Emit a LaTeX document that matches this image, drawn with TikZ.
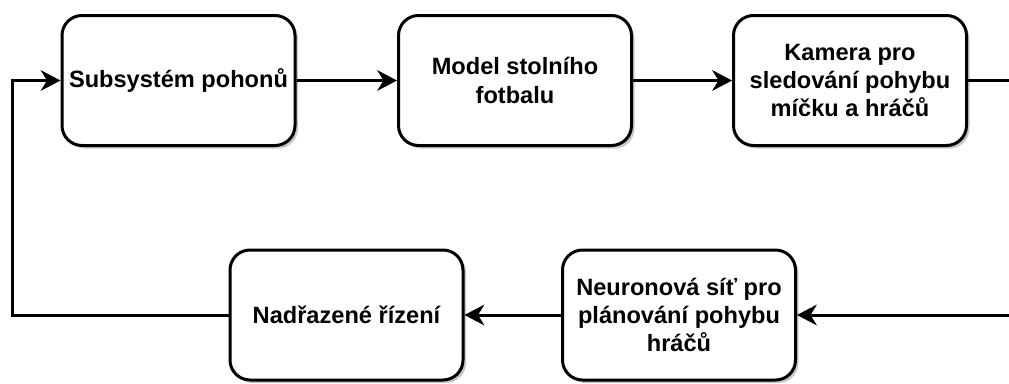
\documentclass[tikz,border=0pt]{standalone}
\usepackage{fontspec}
\setmainfont{Liberation Sans}
\usetikzlibrary{arrows.meta,shadows}

\begin{document}
\begin{tikzpicture}[x=1pt,y=-1pt,
  block/.style={draw, line width=3pt, rounded corners=20pt,
    minimum width=233pt, minimum height=130pt, inner sep=4pt,
    align=center, fill=white,
    font=\bfseries\fontsize{23.6}{28.2}\selectfont,
    drop shadow={shadow xshift=3pt, shadow yshift=-3pt, fill=black!22, opacity=1}},
  conn/.style={line width=3pt,
    -{Stealth[length=20pt, width=21pt, inset=6.5pt, line width=0pt]}},
  wire/.style={line width=3pt}]
  \useasboundingbox (0,0) rectangle (1009,383);

  % upper row: actuators -> table model -> camera
  \node[block] (pohony) at (178.5,80.5) {Subsystém pohonů};
  \node[block] (model)  at (515,80.5)   {Model stolního\\fotbalu};
  \node[block] (kamera) at (850,80.5)   {Kamera pro\\sledování pohybu\\míčku a hráčů};

  % lower row: neural network -> supervisory control
  \node[block] (rizeni) at (346.5,315)  {Nadřazené řízení};
  \node[block] (sit)    at (679,315)    {Neuronová síť pro\\plánování pohybu\\hráčů};

  \coordinate (outR) at (1009,80.5);
  \coordinate (inR)  at (1009,315);
  \coordinate (cL1)  at (12.5,315);
  \coordinate (cL2)  at (12.5,80.5);

  \draw[conn] (pohony) -- (model);
  \draw[conn] (model) -- (kamera);
  \draw[wire] (kamera) -- (outR);
  \draw[conn] (inR) -- (sit);
  \draw[conn] (sit) -- (rizeni);
  \draw[conn] (rizeni.west) -- (cL1) -- (cL2) -- (pohony.west);
\end{tikzpicture}
\end{document}
